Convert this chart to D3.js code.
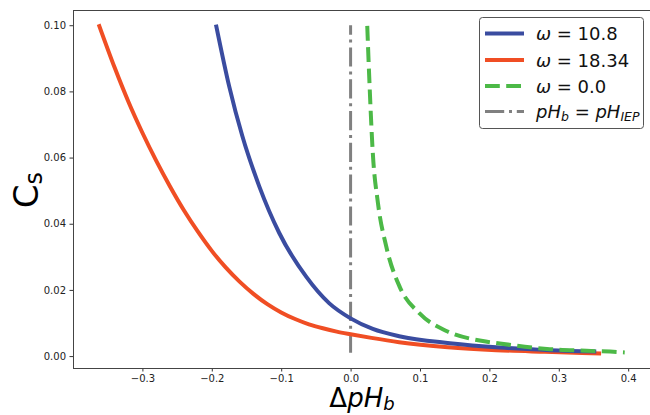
<!DOCTYPE html>
<html>
<head>
<meta charset="utf-8">
<script src="https://cdn.jsdelivr.net/npm/d3@7"></script>
<style>
  html, body { margin: 0; padding: 0; background: #fff; }
  svg { display: block; }
  text { font-family: "DejaVu Sans", sans-serif; }
</style>
</head>
<body>
<svg id="chart" width="650" height="415"></svg>
<script>
// ---- data ----
const xTicks = [-0.3, -0.2, -0.1, 0.0, 0.1, 0.2, 0.3, 0.4];
const yTicks = [0.00, 0.02, 0.04, 0.06, 0.08, 0.10];

const blueX = [-0.194, -0.175, -0.156, -0.1316, -0.1028, -0.064, -0.031, 0.0, 0.032, 0.07, 0.143, 0.215, 0.287, 0.354];
const blueY = [0.1002, 0.0816, 0.0665, 0.0513, 0.0372, 0.0240, 0.0160, 0.0114, 0.0082, 0.0060, 0.0039, 0.0026, 0.0018, 0.0014];

const redX = [-0.363, -0.34, -0.32, -0.30, -0.28, -0.26, -0.24, -0.22, -0.20, -0.18, -0.16, -0.14, -0.12, -0.10, -0.08, -0.06, -0.04, -0.02, 0.0, 0.03, 0.07, 0.14, 0.21, 0.28, 0.361];
const redY = [0.1003, 0.0872, 0.0768, 0.0675, 0.0590, 0.0512, 0.0440, 0.0376, 0.0318, 0.0268, 0.0225, 0.0188, 0.0157, 0.0132, 0.0112, 0.0096, 0.0084, 0.0074, 0.0066, 0.0055, 0.0042, 0.0027, 0.0018, 0.0013, 0.0008];

const greenX = [0.024, 0.0274, 0.032, 0.0394, 0.0514, 0.0706, 0.0994, 0.138, 0.186, 0.215, 0.287, 0.34, 0.3876, 0.395];
const greenY = [0.0998, 0.0816, 0.0614, 0.0463, 0.0331, 0.0210, 0.0129, 0.0076, 0.0047, 0.0038, 0.0021, 0.0016, 0.0012, 0.0011];

const iepX = [0.0, 0.0];
const iepY = [0.001, 0.1];

const seriesNames = ["ω = 10.8", "ω = 18.34", "ω = 0.0", "pH_b = pH_IEP"];

// ---- layout ----
const svg = d3.select("#chart");
const L = 73, R = 649, T = 10, B = 368;
const x = d3.scaleLinear().domain([-0.4, 0.43]).range([L, R]);
const y = d3.scaleLinear().domain([-0.0036, 0.1046]).range([B, T]);

const colors = { blue: "#3a4ca0", red: "#f04e24", green: "#4cb947", gray: "#808080" };

const line = d3.line().x(d => x(d[0])).y(d => y(d[1])).curve(d3.curveMonotoneX);
const zip = (a, b) => a.map((v, i) => [v, b[i]]);

const plot = svg.append("g");
// vertical IEP line
plot.append("path")
  .datum(zip(iepX, iepY))
  .attr("d", d3.line().x(d => x(d[0])).y(d => y(d[1])))
  .attr("fill", "none").attr("stroke", colors.gray).attr("stroke-width", 3)
  .attr("stroke-dasharray", "19.2,4.8,3,4.8");

plot.append("path").datum(zip(redX, redY)).attr("d", line)
  .attr("fill", "none").attr("stroke", colors.red).attr("stroke-width", 4);
plot.append("path").datum(zip(blueX, blueY)).attr("d", line)
  .attr("fill", "none").attr("stroke", colors.blue).attr("stroke-width", 4);
plot.append("path").datum(zip(greenX, greenY)).attr("d", line)
  .attr("fill", "none").attr("stroke", colors.green).attr("stroke-width", 4)
  .attr("stroke-dasharray", "14.8,6.4");

// ---- axes ----
const fmtX = d => d3.format(".1f")(d).replace("-", "\u2212");
const xAxis = svg.append("g").attr("transform", `translate(0,${B})`)
  .call(d3.axisBottom(x).tickValues(xTicks).tickFormat(fmtX).tickSize(3.5).tickPadding(3));
const yAxis = svg.append("g").attr("transform", `translate(${L},0)`)
  .call(d3.axisLeft(y).tickValues(yTicks).tickFormat(d3.format(".2f")).tickSize(3.5).tickPadding(3.5));
[xAxis, yAxis].forEach(a => {
  a.select(".domain").remove();
  a.selectAll("text").attr("font-size", 10).attr("fill", "#222").attr("font-family", "DejaVu Sans");
  a.selectAll("line").attr("stroke", "#333");
});

// spines
svg.append("line").attr("x1", L + 0.5).attr("x2", L + 0.5).attr("y1", T).attr("y2", B).attr("stroke", "#444");
svg.append("line").attr("x1", L).attr("x2", 650).attr("y1", T + 0.5).attr("y2", T + 0.5).attr("stroke", "#444");
svg.append("line").attr("x1", L).attr("x2", 650).attr("y1", B + 0.5).attr("y2", B + 0.5).attr("stroke", "#444");

// ---- axis labels ----
const xl = svg.append("text").attr("x", 362).attr("y", 407).attr("text-anchor", "middle").attr("font-size", 26);
xl.append("tspan").text("Δ");
xl.append("tspan").attr("font-style", "italic").text("pH");
xl.append("tspan").attr("font-style", "italic").attr("font-size", 18).attr("dy", 3).text("b");

const yl = svg.append("text").attr("transform", "translate(38,190) rotate(-90)").attr("text-anchor", "middle").attr("font-size", 34);
yl.append("tspan").text("C");
yl.append("tspan").attr("font-size", 24).attr("dy", 4).text("s");

// ---- legend ----
const lg = svg.append("g");
lg.append("rect").attr("x", 479.5).attr("y", 17.5).attr("width", 164).attr("height", 111).attr("rx", 3)
  .attr("fill", "#fff").attr("stroke", "#555").attr("stroke-width", 1);
const rows = [
  { c: colors.blue, dash: null, w: 4 },
  { c: colors.red, dash: null, w: 4 },
  { c: colors.green, dash: "14.8,6.4", w: 4 },
  { c: colors.gray, dash: "19.2,4.8,3,4.8", w: 3 }
];
const rowY = [33.5, 60, 86, 111.5];
rows.forEach((r, i) => {
  lg.append("line").attr("x1", 485).attr("x2", 524).attr("y1", rowY[i]).attr("y2", rowY[i])
    .attr("stroke", r.c).attr("stroke-width", r.w).attr("stroke-dasharray", r.dash);
  const t = lg.append("text").attr("x", 536).attr("y", rowY[i] + 6.5).attr("font-size", 18).attr("fill", "#111");
  const name = seriesNames[i];
  if (i < 3) {
    t.append("tspan").attr("font-style", "italic").text("ω");
    t.append("tspan").text(name.slice(1));
  } else {
    t.append("tspan").attr("font-style", "italic").text("pH");
    t.append("tspan").attr("font-style", "italic").attr("font-size", 12.5).attr("dy", 3).text("b");
    t.append("tspan").attr("dy", -3).text(" = ");
    t.append("tspan").attr("font-style", "italic").text("pH");
    t.append("tspan").attr("font-style", "italic").attr("font-size", 12.5).attr("dy", 3).text("IEP");
  }
});
</script>
</body>
</html>
